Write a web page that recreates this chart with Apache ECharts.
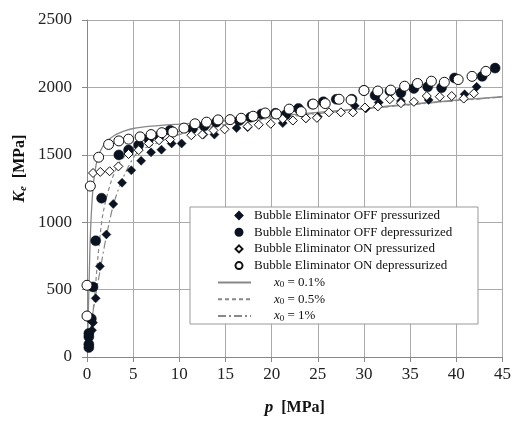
<!DOCTYPE html>
<html>
<head>
<meta charset="utf-8">
<script src="https://cdn.jsdelivr.net/npm/echarts@6/dist/echarts.min.js"></script>
<style>
  html, body { margin: 0; padding: 0; background: #fff; }
  #chart { width: 514px; height: 421px; }
</style>
</head>
<body>
<div id="chart"></div>
<script>
// measured points [p MPa, Ke MPa]
var offPress = [[0.54, 199], [0.65, 255], [0.94, 435], [1.4, 673], [2.1, 909], [2.84, 1135], [3.8, 1293], [4.8, 1385], [5.86, 1455], [6.94, 1518], [8.06, 1538], [9.17, 1584], [10.25, 1584], [12.6, 1650], [13.8, 1650], [16.2, 1698], [17.4, 1705], [21.2, 1735], [23.7, 1771], [25, 1783], [29, 1863], [30.2, 1844], [31.6, 1888], [34, 1900], [37, 1907], [40.9, 1949], [42.2, 2004]];
var offDepress = [[0.2, 70], [0.2, 95], [0.2, 150], [0.2, 175], [0.47, 284], [0.65, 520], [0.94, 862], [1.58, 1178], [3.45, 1499], [4.5, 1535], [5.6, 1572], [6.7, 1620], [7.8, 1637], [9, 1681], [11.4, 1693], [12.7, 1713], [14, 1742], [16.5, 1754], [17.7, 1778], [18.9, 1803], [20.4, 1808], [21.5, 1795], [22.9, 1844], [24.4, 1876], [25.6, 1893], [27, 1912], [28.7, 1912], [30, 1977], [31.2, 1941], [32.8, 1973], [34, 1960], [35.4, 1992], [36.9, 2004], [38.4, 1997], [39.8, 2070], [42.8, 2082], [44.2, 2143]];
var onPress = [[0.65, 1365], [1.44, 1373], [2.45, 1378], [3.4, 1414], [4.5, 1506], [5.6, 1535], [6.7, 1584], [7.8, 1608], [9, 1613], [11.3, 1645], [12.5, 1650], [13.7, 1681], [14.9, 1689], [17.4, 1710], [18.6, 1723], [19.9, 1730], [21.2, 1766], [22.3, 1754], [23.7, 1771], [24.9, 1774], [26.2, 1815], [27.5, 1815], [28.8, 1815], [30.1, 1851], [31.5, 1859], [32.8, 1912], [34, 1883], [35.4, 1893], [36.8, 1936], [38.2, 1931], [39.5, 1936], [40.8, 1917], [41.9, 1956]];
var onDepress = [[0, 304], [0, 532], [0.36, 1268], [1.26, 1482], [2.34, 1577], [3.45, 1603], [4.5, 1616], [5.75, 1633], [6.94, 1650], [8.1, 1664], [9.3, 1669], [10.5, 1698], [11.7, 1730], [12.95, 1742], [14.2, 1759], [15.5, 1761], [16.7, 1771], [17.99, 1786], [19.3, 1810], [20.5, 1803], [21.9, 1839], [23.2, 1820], [24.5, 1876], [25.8, 1880], [27.3, 1912], [28.6, 1907], [30, 1977], [31.5, 1973], [32.9, 1980], [34.4, 2009], [35.8, 2029], [37.3, 2046], [38.7, 2038], [40.2, 2058], [41.7, 2082], [43.2, 2119]];
// model curves
var curve01 = [[0.05, 60], [0.15, 350], [0.25, 620], [0.35, 880], [0.5, 1100], [0.7, 1290], [1.0, 1430], [1.4, 1520], [2, 1590], [3, 1645], [4, 1675], [5, 1695], [7, 1712], [10, 1728], [15, 1752], [20, 1785], [25, 1815], [30, 1845], [35, 1875], [40, 1905], [45, 1932]];
var curve05 = [[0.2, 100], [0.5, 250], [0.83, 455], [1.19, 747], [1.73, 1063], [2.63, 1306], [3.5, 1440], [4.25, 1501], [5, 1550], [6, 1590], [7.5, 1630], [10, 1675], [12.5, 1710], [15, 1735], [20, 1775], [25, 1810], [30, 1842], [35, 1873], [40, 1903], [45, 1930]];
var curve1 = [[0.3, 100], [0.65, 333], [1.37, 625], [2.09, 893], [2.99, 1160], [4.25, 1380], [5.5, 1520], [7, 1570], [8.5, 1615], [10, 1650], [12.5, 1695], [15, 1725], [20, 1770], [25, 1805], [30, 1840], [35, 1871], [40, 1901], [45, 1928]];

var serif = "Liberation Serif";
var dark = "#0b1220";
var curveColor = "#888";
var lineNames = { "x0 = 0.1%": "0.1%", "x0 = 0.5%": "0.5%", "x0 = 1%": "1%" };

var chart = echarts.init(document.getElementById("chart"));
var option = {
  backgroundColor: "#fff",
  animation: false,
  textStyle: { fontFamily: serif },
  grid: { left: 87, right: 10, top: 20, bottom: 59, containLabel: false },
  graphic: [
    {
      type: "rect",
      z: 3,
      shape: { x: 190, y: 207, width: 288, height: 117 },
      style: { fill: "#fff", stroke: "#999", lineWidth: 1 },
    },
  ],
  legend: [
    {
      // marker entries
      orient: "vertical",
      left: 234.5,
      top: 208,
      z: 5,
      itemWidth: 7,
      itemHeight: 7,
      itemGap: 1.7,
      padding: 0,
      textStyle: { fontFamily: serif, fontSize: 13, color: "#111", lineHeight: 15, padding: [0, 0, 0, 6.5] },
      data: [
        "Bubble Eliminator OFF pressurized",
        "Bubble Eliminator OFF depressurized",
        "Bubble Eliminator ON pressurized",
        "Bubble Eliminator ON depressurized",
      ],
    },
    {
      // model curve entries
      orient: "vertical",
      left: 217,
      top: 275,
      z: 5,
      itemWidth: 33,
      itemHeight: 10,
      itemGap: 1.7,
      padding: 0,
      itemStyle: { opacity: 0 },
      textStyle: { fontFamily: serif, fontSize: 13, color: "#111", lineHeight: 15, padding: [0, 0, 0, 18] },
      formatter: function (name) {
        return "{i|x}{s|0}{n| = " + lineNames[name] + "}";
      },
      data: ["x0 = 0.1%", "x0 = 0.5%", "x0 = 1%"],
    },
  ],
  xAxis: {
    type: "value",
    min: 0,
    max: 45,
    interval: 5,
    name: "{p|p}{b|  [MPa]}",
    nameLocation: "middle",
    nameGap: 42,
    nameTextStyle: {
      rich: {
        p: { fontFamily: serif, fontSize: 17, fontWeight: "bold", fontStyle: "italic", color: "#111" },
        b: { fontFamily: serif, fontSize: 16, fontWeight: "bold", color: "#111" },
      },
    },
    axisLine: { show: true, lineStyle: { color: "#888" } },
    axisTick: { show: true, length: 5, lineStyle: { color: "#888" } },
    axisLabel: { fontFamily: serif, fontSize: 17, color: "#222", margin: 9 },
    splitLine: { show: true, lineStyle: { color: "#aaa", width: 1 } },
  },
  yAxis: {
    type: "value",
    min: 0,
    max: 2500,
    interval: 500,
    name: "{k|K}{e|e}{b|  [MPa]}",
    nameLocation: "middle",
    nameGap: 58,
    nameRotate: 90,
    nameMoveOverlap: false,
    nameTextStyle: {
      padding: [0, 0, 0, 40],
      rich: {
        k: { fontFamily: serif, fontSize: 17, fontWeight: "bold", fontStyle: "italic", color: "#111" },
        e: { fontFamily: serif, fontSize: 11, fontWeight: "bold", fontStyle: "italic", color: "#111", padding: [8, 0, 0, 0] },
        b: { fontFamily: serif, fontSize: 16, fontWeight: "bold", color: "#111" },
      },
    },
    axisLine: { show: true, lineStyle: { color: "#888" } },
    axisTick: { show: true, length: 5, lineStyle: { color: "#888" } },
    axisLabel: {
      fontFamily: serif,
      fontSize: 17,
      color: "#222",
      margin: 15,
      formatter: function (v) {
        return String(v);
      },
    },
    splitLine: { show: true, lineStyle: { color: "#aaa", width: 1 } },
  },
  series: [
    {
      name: "Bubble Eliminator OFF pressurized",
      type: "scatter",
      symbol: "diamond",
      symbolSize: 9,
      itemStyle: { color: dark, borderColor: dark, borderWidth: 0.5, opacity: 1 },
      data: offPress,
    },
    {
      name: "Bubble Eliminator OFF depressurized",
      type: "scatter",
      symbol: "circle",
      symbolSize: 10,
      itemStyle: { color: dark, borderColor: dark, borderWidth: 0.5, opacity: 1 },
      data: offDepress,
    },
    {
      name: "Bubble Eliminator ON pressurized",
      type: "scatter",
      symbol: "diamond",
      symbolSize: 9,
      itemStyle: { color: "#fff", borderColor: "#111", borderWidth: 1, opacity: 1 },
      data: onPress,
    },
    {
      name: "Bubble Eliminator ON depressurized",
      type: "scatter",
      symbol: "circle",
      symbolSize: 10,
      itemStyle: { color: "#fff", borderColor: "#111", borderWidth: 1, opacity: 1 },
      data: onDepress,
    },
    {
      name: "x0 = 0.1%",
      type: "line",
      smooth: 0.3,
      symbol: "none",
      z: 1,
      lineStyle: { color: curveColor, width: 1.3, type: "solid" },
      itemStyle: { color: curveColor },
      data: curve01,
    },
    {
      name: "x0 = 0.5%",
      type: "line",
      smooth: 0.3,
      symbol: "none",
      z: 1,
      lineStyle: { color: curveColor, width: 1.2, type: [4, 3] },
      itemStyle: { color: curveColor },
      data: curve05,
    },
    {
      name: "x0 = 1%",
      type: "line",
      smooth: 0.3,
      symbol: "none",
      z: 1,
      lineStyle: { color: curveColor, width: 1.2, type: [8, 3, 2, 3] },
      itemStyle: { color: curveColor },
      data: curve1,
    },
  ],
};
// rich styles for legend subscript labels
option.legend[1].textStyle.rich = {
  i: { fontFamily: serif, fontSize: 13, fontStyle: "italic", color: "#111" },
  s: { fontFamily: serif, fontSize: 9, color: "#111", padding: [5, 0, 0, 0] },
  n: { fontFamily: serif, fontSize: 13, color: "#111" },
};
chart.setOption(option);
</script>
</body>
</html>
